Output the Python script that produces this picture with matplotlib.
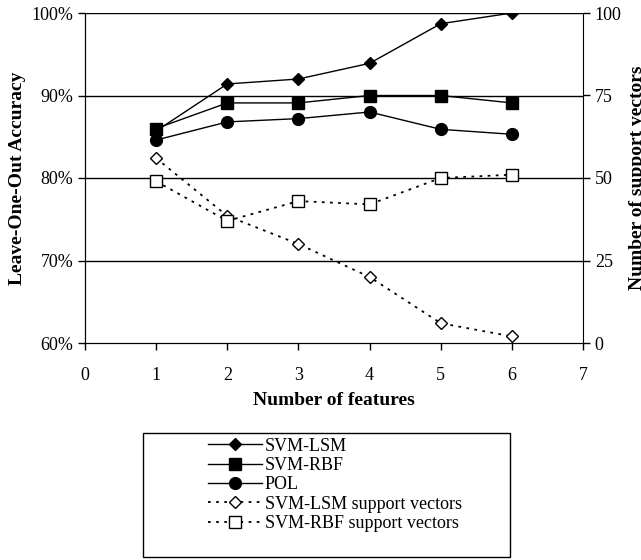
import numpy as np
import matplotlib.pyplot as plt
from matplotlib.patches import Rectangle

plt.rcParams['font.family'] = ['Liberation Serif', 'DejaVu Serif']

features = [1, 2, 3, 4, 5, 6]
acc_lsm = [85.7, 91.4, 92.0, 93.9, 98.7, 100.0]
acc_rbf = [86.0, 89.1, 89.1, 90.0, 90.0, 89.1]
acc_pol = [84.6, 86.8, 87.2, 88.0, 85.9, 85.3]
sv_lsm = [56, 38.5, 30, 20, 6, 2]
sv_rbf = [49, 37, 43, 42, 50, 51]

fig = plt.figure(figsize=(6.41, 5.60), dpi=100)
ax = fig.add_axes([85/641, 1 - 343/560, (583 - 85)/641, (343 - 13)/560])
ax2 = ax.twinx()

fs = 13
lfs = 14
l1, = ax.plot(features, acc_lsm, color='black', lw=1, marker='D', ms=6.5, label='SVM-LSM')
l2, = ax.plot(features, acc_rbf, color='black', lw=1, marker='s', ms=8.5, label='SVM-RBF')
l3, = ax.plot(features, acc_pol, color='black', lw=1, marker='o', ms=8.5, label='POL')
dots = (0, (1.5, 3))
l4, = ax2.plot(features, sv_lsm, color='black', lw=1.3, ls=dots, marker='D', ms=6.5,
               mfc='white', mec='black', mew=1, label='SVM-LSM support vectors')
l5, = ax2.plot(features, sv_rbf, color='black', lw=1.3, ls=dots, marker='s', ms=9,
               mfc='white', mec='black', mew=1, label='SVM-RBF support vectors')

ax.set_xlim(0, 7)
ax.set_ylim(60, 100)
ax2.set_ylim(0, 100)
ax.set_xticks(range(8))
ax.set_yticks([60, 70, 80, 90, 100])
ax.set_yticklabels(['60%', '70%', '80%', '90%', '100%'])
ax2.set_yticks([0, 25, 50, 75, 100])
for y in [70, 80, 90, 100]:
    ax.axhline(y, color='black', lw=1, zorder=0)

for a in (ax, ax2):
    a.tick_params(labelsize=fs, direction='out', length=5, width=1, color='black')
    a.spines['top'].set_visible(False)
ax.spines['right'].set_visible(False)
ax.tick_params(axis='x', pad=12)

ax.set_xlabel('Number of features', fontsize=lfs, fontweight='bold', labelpad=6)
ax.set_ylabel('Leave-One-Out Accuracy', fontsize=lfs, fontweight='bold', labelpad=4)
ax2.set_ylabel('Number of support vectors', fontsize=lfs, fontweight='bold', labelpad=5)

# legend box below the chart
fig.patches.append(Rectangle((143/641, 1 - 557/560), (510 - 143)/641, (557 - 433)/560,
                             transform=fig.transFigure, fill=False, edgecolor='black', lw=1))
fig.legend(handles=[l1, l2, l3, l4, l5], loc='upper left',
           bbox_to_anchor=(195/641, 1 - 425/560), frameon=False, fontsize=fs,
           handlelength=3.0, handletextpad=0.17, labelspacing=0.13, borderpad=0.2)

fig.savefig('out.png', dpi=100)
